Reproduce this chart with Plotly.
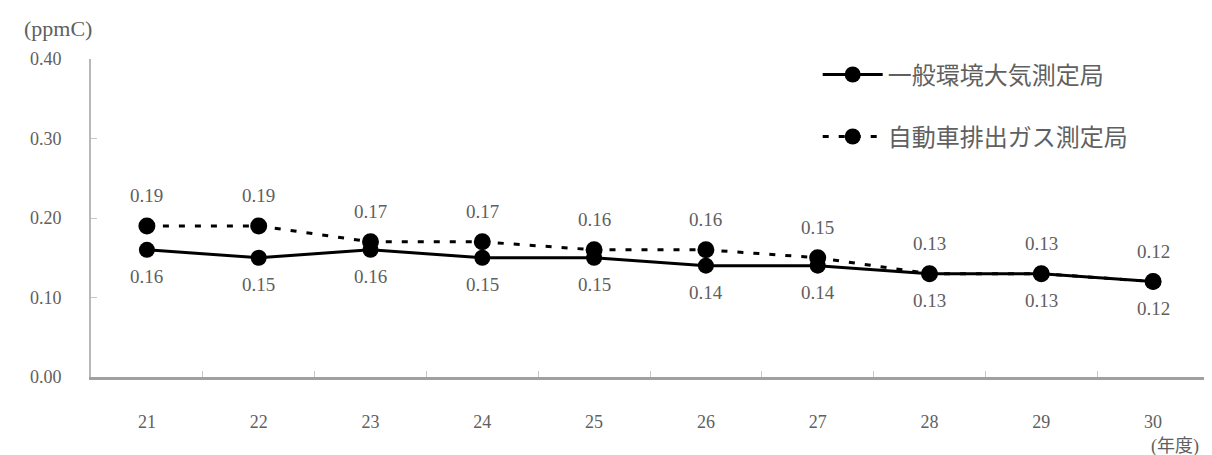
import plotly.graph_objects as go

years = ["21", "22", "23", "24", "25", "26", "27", "28", "29", "30"]
general = [0.16, 0.15, 0.16, 0.15, 0.15, 0.14, 0.14, 0.13, 0.13, 0.12]
roadside = [0.19, 0.19, 0.17, 0.17, 0.16, 0.16, 0.15, 0.13, 0.13, 0.12]
name_general = "一般環境大気測定局"
name_roadside = "自動車排出ガス測定局"
y_ticks = [0.0, 0.1, 0.2, 0.3, 0.4]
y_ticktext = ["0.00", "0.10", "0.20", "0.30", "0.40"]
unit_label = "(ppmC)"
x_unit_label = "(年度)"

FONT = "Liberation Serif, Noto Sans CJK JP, serif"
TXT = "#606060"

fig = go.Figure()
fig.add_trace(go.Scatter(
    x=years, y=general, name=name_general, mode="lines+markers",
    line=dict(color="black", width=3),
    marker=dict(color="black", size=16, symbol="circle"),
    legend="legend", showlegend=True,
))
fig.add_trace(go.Scatter(
    x=years, y=roadside, name=name_roadside, mode="lines+markers",
    line=dict(color="black", width=3, dash="6px,10px"),
    marker=dict(color="black", size=17, symbol="circle"),
    legend="legend2", showlegend=True,
))

annotations = []
for i, yv in enumerate(roadside):
    annotations.append(dict(x=i, y=yv, xref="x", yref="y", text=f"{yv:.2f}", showarrow=False,
                            yshift=30, font=dict(size=19, color=TXT, family=FONT)))
for i, yv in enumerate(general):
    annotations.append(dict(x=i, y=yv, xref="x", yref="y", text=f"{yv:.2f}", showarrow=False,
                            yshift=-27, font=dict(size=19, color=TXT, family=FONT)))
annotations.append(dict(xref="paper", yref="paper", x=-0.062, y=1.0, yshift=16,
                        xanchor="left", yanchor="bottom", text=unit_label, showarrow=False,
                        font=dict(size=22, color=TXT, family=FONT)))
annotations.append(dict(x=len(years) - 1, xref="x", xshift=22, yref="paper", y=0, yshift=-57,
                        yanchor="top", text=x_unit_label, showarrow=False,
                        font=dict(size=18, color=TXT, family=FONT)))
fig.update_layout(annotations=annotations)

fig.update_layout(
    width=1204, height=447,
    margin=dict(l=83, r=3, t=51, b=78),
    showlegend=True,
    plot_bgcolor="white", paper_bgcolor="white",
    font=dict(family=FONT, color=TXT, size=16),
    legend=dict(x=0.650, y=0.95, xanchor="left", yanchor="middle",
                font=dict(size=24, color=TXT, family=FONT), itemwidth=60,
                bgcolor="rgba(0,0,0,0)"),
    legend2=dict(x=0.650, y=0.755, xanchor="left", yanchor="middle",
                 font=dict(size=24, color=TXT, family=FONT), itemwidth=60,
                 bgcolor="rgba(0,0,0,0)"),
)
fig.update_xaxes(
    type="category", showgrid=False, showline=True, linecolor="#a0a0a0", linewidth=3,
    ticks="inside", tickson="boundaries", ticklen=6, tickcolor="#c8c8c8",
    tickfont=dict(size=18, color=TXT, family=FONT), ticklabelstandoff=26,
    range=[-0.5, 9.5], automargin=False,
)
fig.update_yaxes(
    range=[0, 0.4], tickvals=y_ticks, ticktext=y_ticktext, showgrid=False,
    showline=True, linecolor="#b8b8b8", linewidth=2, ticks="inside", ticklen=6,
    tickcolor="#c8c8c8", zeroline=False, automargin=False,
    tickfont=dict(size=18, color=TXT, family=FONT), ticklabelstandoff=24,
)

fig.write_html("out.html")
